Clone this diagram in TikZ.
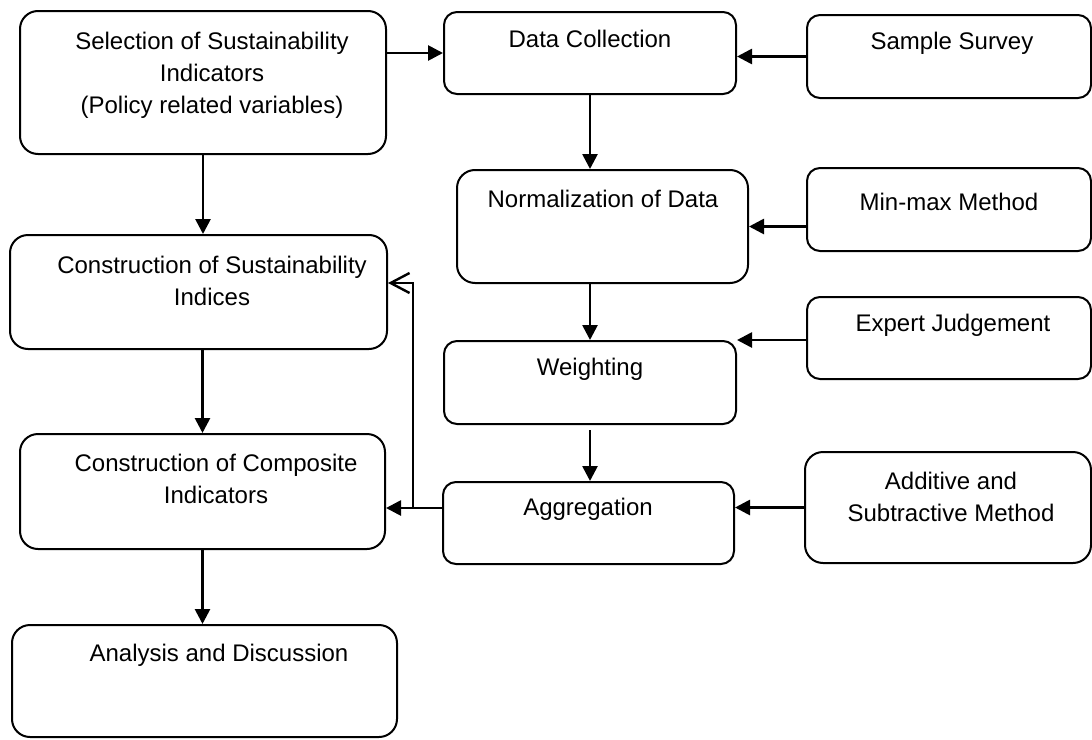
\documentclass[tikz,border=0pt]{standalone}
\usepackage{fontspec}
\setmainfont{Liberation Sans}
\usetikzlibrary{arrows.meta, calc}

\begin{document}
\begin{tikzpicture}[
  x=0.5pt, y=-0.5pt,
  >={Triangle[length=7.5pt, width=7.5pt]},
  font=\fontsize{12}{16}\selectfont,
  flow/.style={->, line width=1.35pt},
  feedback/.style={-{Straight Barb[length=9.5pt, width=10pt]}, line width=1.2pt},
  stagebox/.style={draw, line width=1pt, rounded corners=9pt, inner sep=0pt},
  smallbox/.style={stagebox, rounded corners=6.5pt},
  boxtext/.style={align=center, inner sep=0pt}
]

  \useasboundingbox (0,0) rectangle (1092,739);

  % left column: main steps
  \node[stagebox, minimum width=183pt, minimum height=71.5pt] (select) at (203,82.5) {};
  \node[stagebox, minimum width=188.5pt, minimum height=57pt] (sustIdx) at (198.5,292) {};
  \node[stagebox, minimum width=182.5pt, minimum height=57.5pt] (compInd) at (202.5,491.5) {};
  \node[stagebox, minimum width=192.5pt, minimum height=56pt] (analysis) at (204.5,681) {};

  % middle column: index building
  \node[smallbox, minimum width=146pt, minimum height=41pt] (dataColl) at (590,53) {};
  \node[stagebox, minimum width=145.5pt, minimum height=56.5pt] (normal) at (602.5,226.5) {};
  \node[smallbox, minimum width=146pt, minimum height=41.5pt] (weight) at (590,382.5) {};
  \node[smallbox, minimum width=145.5pt, minimum height=41pt] (aggreg) at (588.5,523) {};

  % right column: methods
  \node[smallbox, minimum width=142pt, minimum height=41.5pt] (survey) at (949,56.5) {};
  \node[smallbox, minimum width=142pt, minimum height=41.5pt] (minmax) at (949,209.5) {};
  \node[smallbox, minimum width=142pt, minimum height=41pt] (expert) at (949,338) {};
  \node[stagebox, minimum width=143pt, minimum height=55.5pt] (addSub) at (948,507.5) {};

  % texts sit in the upper part of the boxes
  \node[boxtext] (selectTxt) at (212,75.5) {Selection of Sustainability\\Indicators\\(Policy related variables)};
  \node[boxtext] (sustIdxTxt) at (212,281) {Construction of Sustainability\\Indices};
  \node[boxtext] (compIndTxt) at (216,479) {Construction of Composite\\Indicators};
  \node[boxtext] (analysisTxt) at (219,655) {Analysis and Discussion};
  \node[boxtext] (dataCollTxt) at (590,39) {Data Collection};
  \node[boxtext] (normalTxt) at (603,199) {Normalization of Data};
  \node[boxtext] (weightTxt) at (590,369) {Weighting};
  \node[boxtext] (aggregTxt) at (588,509) {Aggregation};
  \node[boxtext] (surveyTxt) at (952,43) {Sample Survey};
  \node[boxtext] (minmaxTxt) at (949,202) {Min-max Method};
  \node[boxtext] (expertTxt) at (953,325) {Expert Judgement};
  \node[boxtext] (addSubTxt) at (951,497) {Additive and\\Subtractive Method};

  % arrows
  \draw[flow] (select.east |- dataColl.west) -- (dataColl.west);
  \draw[flow] (survey.west) -- (survey.west -| dataColl.east);
  \draw[flow] (dataColl.south) -- (dataColl.south |- normal.north);
  \draw[flow] (minmax.west |- normal.east) -- (normal.east);
  \draw[flow] (weight.north |- normal.south) -- (weight.north);
  \draw[flow] (expert.west |- weight.north east) -- (weight.north east);
  \draw[flow, shorten <=2.5pt] (weight.south) -- (weight.south |- aggreg.north);
  \draw[flow] (addSub.west) -- (addSub.west -| aggreg.east);

  \coordinate (junction) at (413,508);
  \coordinate (turn) at (413,283);
  \draw[flow] (aggreg.west |- junction) -- (junction -| compInd.east);
  \draw[feedback] (junction) -- (turn) -- (turn -| sustIdx.east);

  \draw[flow] (select.south) -- (select.south |- sustIdx.north);
  \draw[flow] (compInd.north |- sustIdx.south) -- (compInd.north);
  \draw[flow] (compInd.south) -- (compInd.south |- analysis.north);

\end{tikzpicture}
\end{document}
